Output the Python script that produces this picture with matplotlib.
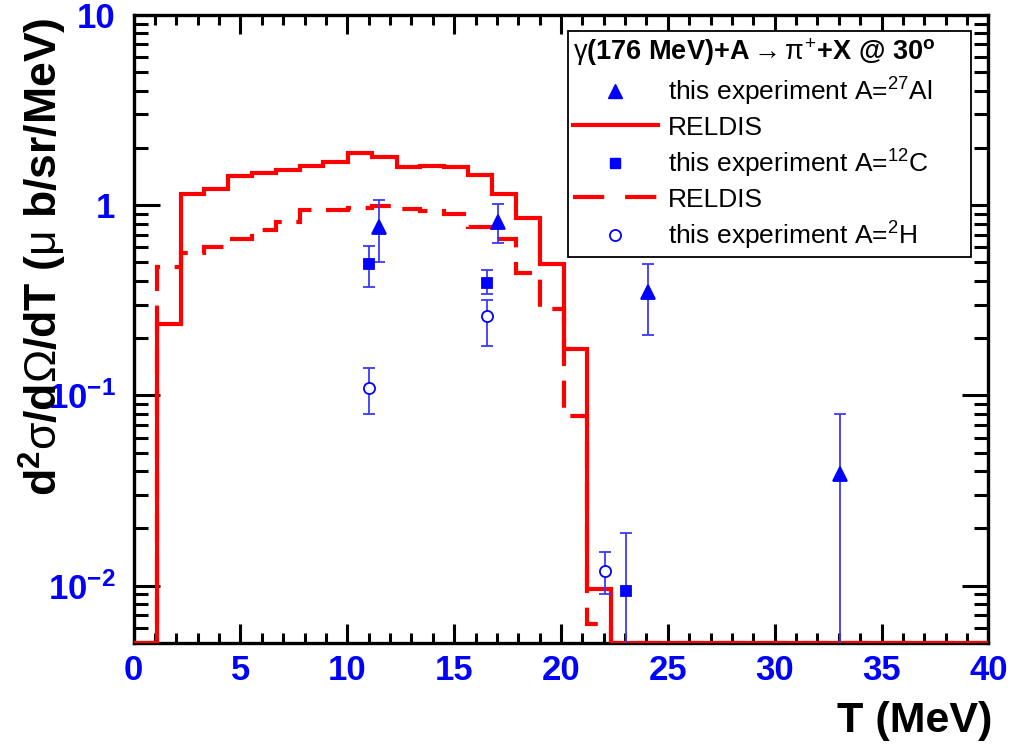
import numpy as np
import matplotlib
matplotlib.use("Agg")
import matplotlib.pyplot as plt
from matplotlib.ticker import FixedLocator, FixedFormatter, MultipleLocator
from matplotlib.lines import Line2D

plt.rcParams['font.family'] = ['Liberation Sans', 'DejaVu Sans']
plt.rcParams['mathtext.fontset'] = 'custom'
plt.rcParams['mathtext.rm'] = 'Liberation Sans'
plt.rcParams['mathtext.it'] = 'Liberation Sans'
plt.rcParams['mathtext.bf'] = 'Liberation Sans:bold'

# RELDIS histograms (bin edges in MeV, contents in ub/sr/MeV)
bin_edges = [0, 1.09, 2.21, 3.30, 4.43, 5.53, 6.65, 7.79, 8.88, 10.05, 11.14,
             12.31, 13.40, 14.53, 15.66, 16.75, 17.89, 19.01, 20.13, 21.20, 22.33, 40]
reldis_al = [0, 0.238, 1.15, 1.22, 1.42, 1.47, 1.54, 1.61, 1.68, 1.89, 1.80,
             1.59, 1.60, 1.58, 1.44, 1.15, 0.857, 0.493, 0.175, 0.0096, 0]
reldis_c = [0, 0.474, 0.561, 0.604, 0.668, 0.739, 0.817, 0.949, 0.941, 0.972, 0.988,
            0.96, 0.93, 0.904, 0.77, 0.668, 0.44, 0.284, 0.078, 0.0063, 0]

# measured points: value, lower and upper end of error bar
al_T = [11.5, 17.05, 24.05, 33.05]
al_y = [0.77, 0.82, 0.35, 0.0387]
al_lo = [0.503, 0.633, 0.209, 0]
al_hi = [1.06, 1.01, 0.489, 0.080]

c_T = [11.0, 16.55, 23.05]
c_y = [0.493, 0.39, 0.0094]
c_lo = [0.372, 0.343, 0]
c_hi = [0.61, 0.459, 0.0189]

h_T = [11.0, 16.55, 22.05]
h_y = [0.11, 0.261, 0.0119]
h_lo = [0.080, 0.181, 0.0090]
h_hi = [0.14, 0.319, 0.0151]

ytick_vals = [0.01, 0.1, 1, 10]
ytick_labels = [r'$\mathbf{10^{-2}}$', r'$\mathbf{10^{-1}}$', '1', '10']
xtick_vals = [0, 5, 10, 15, 20, 25, 30, 35, 40]

ymin, ymax = 0.005, 10

fig = plt.figure(figsize=(10.13, 7.46), dpi=100)
ax = fig.add_axes([0.1318, 0.138, 0.844, 0.842])
ax.set_yscale('log')
ax.set_xlim(0, 40)
ax.set_ylim(ymin, ymax)

red = '#ff0000'
blue = '#0000ff'
ebar = '#3a3aff'

# histograms (empty bins drawn on the bottom frame, like ROOT)
ax.stairs(np.clip(reldis_al, ymin, None), bin_edges, baseline=None,
          color=red, lw=3.0, zorder=3)
ax.stairs(np.clip(reldis_c, ymin, None), bin_edges, baseline=None,
          color=red, lw=3.0, ls=(0, (6.5, 3.5)), zorder=3)


def errpts(T, y, lo, hi, marker, ms, mfc):
    y = np.array(y)
    yerr = [y - np.array(lo), np.array(hi) - y]
    ax.errorbar(T, y, yerr=yerr, fmt=marker, ms=ms, mfc=mfc, mec=blue,
                mew=1.3, ecolor=ebar, elinewidth=1.3, capsize=4.5,
                capthick=1.3, zorder=4)


errpts(al_T, al_y, al_lo, al_hi, '^', 10, blue)
errpts(c_T, c_y, c_lo, c_hi, 's', 7, blue)
errpts(h_T, h_y, h_lo, h_hi, 'o', 8, 'white')

# axes style
for s in ax.spines.values():
    s.set_linewidth(2.4)
ax.xaxis.set_major_locator(FixedLocator(xtick_vals))
ax.xaxis.set_minor_locator(MultipleLocator(1))
ax.yaxis.set_major_locator(FixedLocator(ytick_vals))
ax.yaxis.set_major_formatter(FixedFormatter(ytick_labels))
ax.yaxis.set_minor_locator(matplotlib.ticker.LogLocator(base=10, subs=np.arange(2, 10)))
ax.yaxis.set_minor_formatter(matplotlib.ticker.NullFormatter())
ax.tick_params(which='both', direction='in', top=True, right=True, width=2.2,
               labelcolor=blue, labelsize=25)
ax.tick_params(axis='x', which='major', length=14, pad=8)
ax.tick_params(axis='x', which='minor', length=7)
ax.tick_params(axis='y', which='major', length=19, pad=13)
ax.tick_params(axis='y', which='minor', length=10)
for lab in ax.get_xticklabels() + ax.get_yticklabels():
    lab.set_fontweight('bold')

ax.set_xlabel('T (MeV)', fontsize=31, fontweight='bold', loc='right', va='center')
ax.xaxis.set_label_coords(1.004, -0.124)
ax.set_ylabel(r'd$^{\mathbf{2}}\sigma$/d$\Omega$/dT ($\mu$ b/sr/MeV)', fontsize=32,
              fontweight='bold', loc='top', va='center')
ax.yaxis.set_label_coords(-0.106, 0.995)

# legend
handles = [
    Line2D([], [], ls='none', marker='^', ms=10, color=blue),
    Line2D([], [], color=red, lw=3.0),
    Line2D([], [], ls='none', marker='s', ms=7, color=blue),
    Line2D([], [], color=red, lw=3.0, ls=(0, (7.5, 5.0))),
    Line2D([], [], ls='none', marker='o', ms=8, mfc='white', mec=blue, mew=1.3),
]
labels = [
    r'this experiment A=$^{27}$Al',
    'RELDIS',
    r'this experiment A=$^{12}$C',
    'RELDIS',
    r'this experiment A=$^{2}$H',
]
leg = ax.legend(handles, labels, loc='upper left',
                bbox_to_anchor=(0.508, 0.621, 0.471, 0.354), mode='expand',
                borderaxespad=0, fontsize=19, handlelength=3.2, labelspacing=0.3,
                borderpad=0.2, handletextpad=0.4, fancybox=False, framealpha=1,
                edgecolor='black',
                title=r'$\gamma$(176 MeV)+A$\rightarrow\pi^{+}$+X @ 30$^{\mathbf{o}}$',
                title_fontproperties={'size': 19.5, 'weight': 'bold'},
                alignment='left')
leg.get_frame().set_linewidth(1.3)

fig.savefig('out.png', dpi=100)
